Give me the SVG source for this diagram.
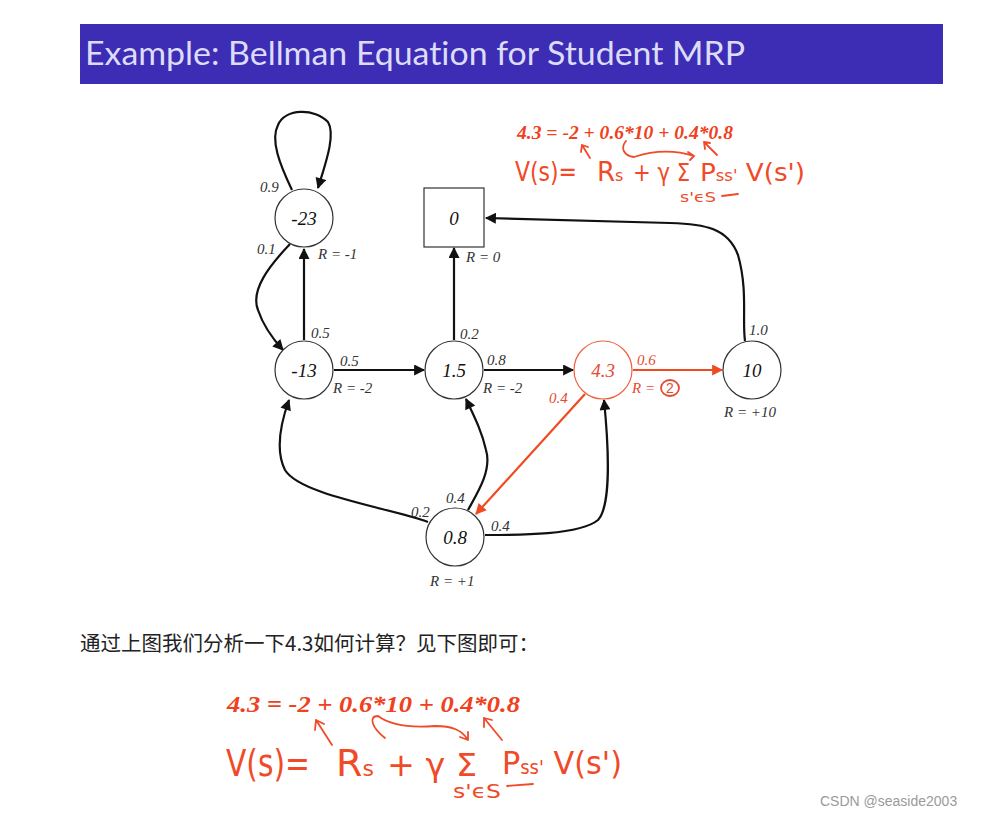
<svg xmlns="http://www.w3.org/2000/svg" width="996" height="817" viewBox="0 0 996 817">
<defs>
<marker id="ab2" viewBox="0 0 10 10" refX="9" refY="5" markerWidth="14" markerHeight="11" orient="auto" markerUnits="userSpaceOnUse"><path d="M0,0 L10,5 L0,10 z" fill="#111"/></marker>
<marker id="ao" viewBox="0 0 10 10" refX="9" refY="5" markerWidth="14" markerHeight="11" orient="auto" markerUnits="userSpaceOnUse"><path d="M0,0 L10,5 L0,10 z" fill="#f04a20"/></marker>
<style>
.node{fill:#fff;stroke:#333;stroke-width:1.2}
.nl{font-family:"Liberation Serif",serif;font-style:italic;font-size:19px;text-anchor:middle;fill:#111}
.el{font-family:"Liberation Serif",serif;font-style:italic;font-size:15px;fill:#333}
.e{fill:none;stroke:#111;stroke-width:2.2}
.eo{fill:none;stroke:#f04a20;stroke-width:2.2}
.hw{font-family:"DejaVu Sans",sans-serif;fill:#f04a28}
.hl{fill:none;stroke:#f04a28;stroke-width:1.8;stroke-linecap:round}
.fm{font-family:"Liberation Serif",serif;font-style:italic;font-weight:bold;fill:#f0401c}
</style>
</defs>
<rect width="996" height="817" fill="#fff"/>
<rect x="80" y="24" width="863" height="60" fill="#3d2db4"/>
<text x="85" y="65" font-family="Lato, sans-serif" font-size="33" fill="#dcdcfa" style="font-variant-ligatures:none" textLength="660" lengthAdjust="spacingAndGlyphs">Example:  Bellman Equation for Student MRP</text>

<g id="connectors">
<path class="e" d="M292,190 C280,165 270,140 278,125 C285,108 315,108 328,122 C336,135 325,165 318,188" marker-end="url(#ab2)"/>
<path class="e" d="M290,244 C270,265 250,290 258,310 C263,325 272,338 283,350" marker-end="url(#ab2)"/>
<path class="e" d="M304,340 L304,249" marker-end="url(#ab2)"/>
<path class="e" d="M454,340 L454,248" marker-end="url(#ab2)"/>
<path class="e" d="M745,341 C742,320 748,290 738,255 C728,228 705,224 670,223 L486,218" marker-end="url(#ab2)"/>
<path class="e" d="M334,370 L424,370" marker-end="url(#ab2)"/>
<path class="e" d="M484,370 L573,370" marker-end="url(#ab2)"/>
<path class="eo" d="M633,370 L722,370" marker-end="url(#ao)"/>
<path class="eo" d="M585,394 L476,514" marker-end="url(#ao)"/>
<path class="e" d="M428,522 C390,508 300,495 285,470 C275,450 280,425 289,400" marker-end="url(#ab2)"/>
<path class="e" d="M468,510 C478,492 492,470 486,450 C482,432 475,418 466,399" marker-end="url(#ab2)"/>
<path class="e" d="M485,535 C520,535 580,535 598,520 C612,505 608,440 604,400" marker-end="url(#ab2)"/>
</g>

<g id="n-23"><circle class="node" cx="304" cy="218" r="29"/><text class="nl" x="304" y="225">-23</text><text class="el" x="318" y="259">R = -1</text></g>
<g id="n0"><rect class="node" x="424" y="188" width="60" height="59"/><text class="nl" x="454" y="225">0</text><text class="el" x="466" y="262">R = 0</text></g>
<g id="n-13"><circle class="node" cx="304" cy="370" r="29"/><text class="nl" x="304" y="377">-13</text><text class="el" x="333" y="393">R = -2</text></g>
<g id="n1.5"><circle class="node" cx="454" cy="370" r="29"/><text class="nl" x="454" y="377">1.5</text><text class="el" x="483" y="393">R = -2</text></g>
<g id="n4.3"><circle cx="603" cy="370" r="29" fill="#fff" stroke="#f06040" stroke-width="1.2"/><text class="nl" x="603" y="377" style="fill:#e84a30">4.3</text><text class="el" x="632" y="393" style="fill:#e84a30">R =</text><text x="670" y="393" font-family="Liberation Sans, sans-serif" font-size="14" fill="#e84a30" text-anchor="middle">2</text><ellipse cx="670" cy="388" rx="9" ry="8" fill="none" stroke="#e84a30" stroke-width="1.8"/></g>
<g id="n10"><circle class="node" cx="752" cy="370" r="29"/><text class="nl" x="752" y="377">10</text><text class="el" x="724" y="417">R = +10</text></g>
<g id="n0.8"><circle class="node" cx="455" cy="537" r="29"/><text class="nl" x="455" y="544">0.8</text><text class="el" x="430" y="586">R = +1</text></g>

<g id="edge-labels">
<text class="el" x="260" y="192">0.9</text>
<text class="el" x="257" y="254">0.1</text>
<text class="el" x="311" y="338">0.5</text>
<text class="el" x="340" y="366">0.5</text>
<text class="el" x="460" y="339">0.2</text>
<text class="el" x="487" y="365">0.8</text>
<text class="el" x="637" y="365" style="fill:#e84a30">0.6</text>
<text class="el" x="549" y="403" style="fill:#e84a30">0.4</text>
<text class="el" x="749" y="335">1.0</text>
<text class="el" x="411" y="517">0.2</text>
<text class="el" x="446" y="503">0.4</text>
<text class="el" x="491" y="531">0.4</text>
</g>

<g id="annot-top">
<text class="fm" x="517" y="139" font-size="18" textLength="216" lengthAdjust="spacingAndGlyphs">4.3 = -2 + 0.6*10 + 0.4*0.8</text>
<text class="hw" x="515" y="181" font-size="26" textLength="62" lengthAdjust="spacingAndGlyphs">V(s)=</text>
<text class="hw" x="597" y="181" font-size="26">R<tspan font-size="16">s</tspan></text>
<text class="hw" x="633" y="181" font-size="24" textLength="57" lengthAdjust="spacingAndGlyphs">+ γ Σ</text>
<text class="hw" x="700" y="181" font-size="24" textLength="105" lengthAdjust="spacingAndGlyphs">P<tspan font-size="15">ss'</tspan> V(s')</text>
<text class="hw" x="680" y="202" font-size="14" textLength="36" lengthAdjust="spacingAndGlyphs">s'ϵS</text>
<path class="hl" d="M590,158 L582,145 M582,145 L581,152 M582,145 L588,147"/>
<path class="hl" d="M626,141 C620,148 624,156 634,157 C655,150 675,150 694,156 M694,156 L688,152 M694,156 L690,160"/>
<path class="hl" d="M717,155 L704,142 M704,142 L705,149 M704,142 L710,143"/>
<path class="hl" d="M722,196 L738,194" stroke-width="2.5"/>
</g>

<text x="80" y="651" font-family="Noto Sans CJK SC, sans-serif" font-size="20.5" fill="#222">通过上图我们分析一下4.3如何计算？见下图即可：</text>

<g id="annot-bottom">
<text class="fm" x="227" y="712" font-size="24" textLength="293" lengthAdjust="spacingAndGlyphs">4.3 = -2 + 0.6*10 + 0.4*0.8</text>
<text class="hw" x="226" y="776" font-size="38" textLength="84" lengthAdjust="spacingAndGlyphs">V(s)=</text>
<text class="hw" x="336" y="776" font-size="38">R<tspan font-size="22">s</tspan></text>
<text class="hw" x="387" y="776" font-size="32" textLength="90" lengthAdjust="spacingAndGlyphs">+ γ Σ</text>
<text class="hw" x="502" y="774" font-size="32" textLength="120" lengthAdjust="spacingAndGlyphs">P<tspan font-size="19">ss'</tspan> V(s')</text>
<text class="hw" x="453" y="798" font-size="19" textLength="48" lengthAdjust="spacingAndGlyphs">s'ϵS</text>
<path class="hl" d="M332,745 L316,720 M316,720 L315,730 M316,720 L324,724"/>
<path class="hl" d="M385,738 C372,728 368,716 378,716 C390,725 410,728 435,726 C452,726 462,730 468,740 M468,740 L460,737 M468,740 L468,732"/>
<path class="hl" d="M502,740 L484,718 M484,718 L484,727 M484,718 L492,720"/>
<path class="hl" d="M507,786 L533,784" stroke-width="3"/>
</g>

<text x="820" y="806" font-family="Liberation Sans, sans-serif" font-size="14" fill="#9a9a9a">CSDN @seaside2003</text>
</svg>
